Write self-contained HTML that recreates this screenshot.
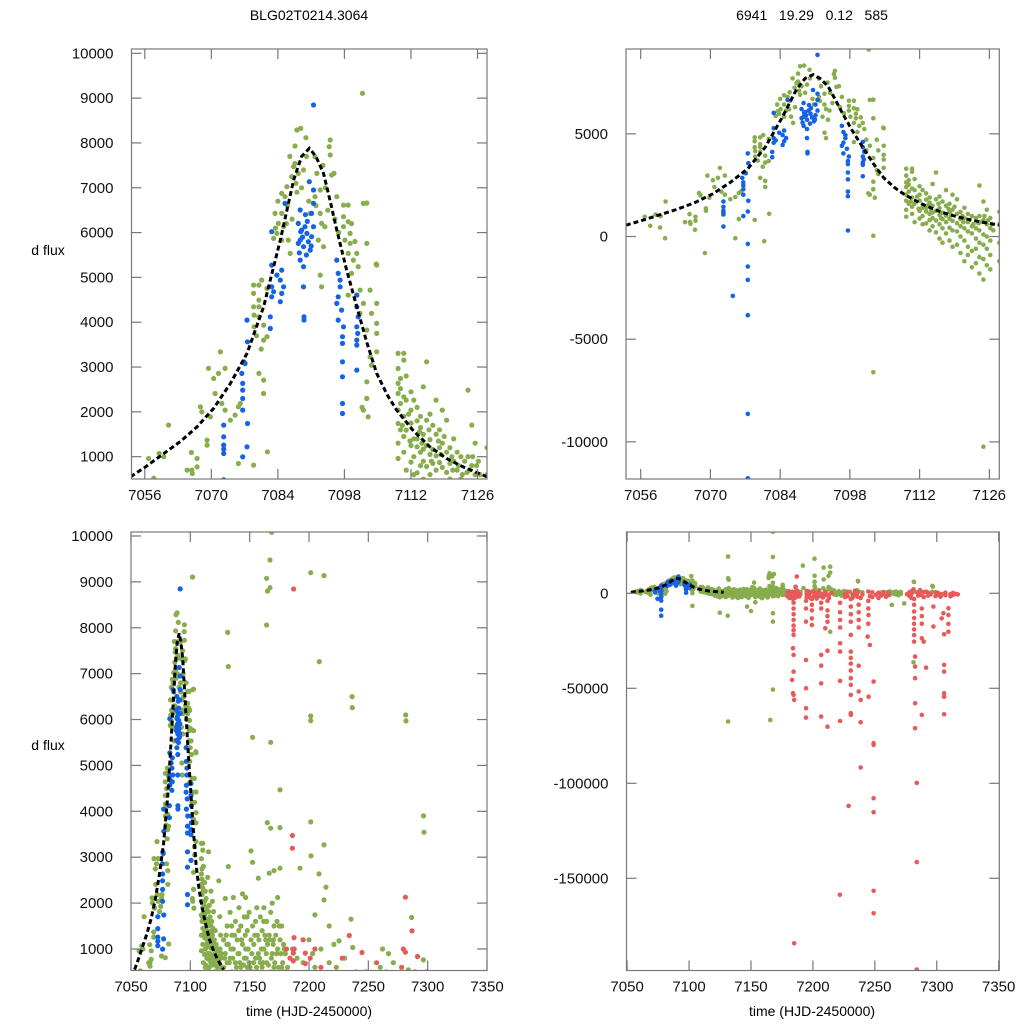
<!DOCTYPE html>
<html><head><meta charset="utf-8"><style>
html,body{margin:0;padding:0;background:#fff;width:1024px;height:1024px;overflow:hidden;}
svg{display:block;font-family:"Liberation Sans",sans-serif;}
</style></head><body>
<svg id="chart" width="1024" height="1024" viewBox="0 0 1024 1024" xmlns="http://www.w3.org/2000/svg">
<rect width="1024" height="1024" fill="#fff"/>
<text x="309" y="20" font-size="14" text-anchor="middle">BLG02T0214.3064</text>
<text x="812" y="20" font-size="14" text-anchor="middle" xml:space="preserve">6941   19.29   0.12   585</text>
<text x="48" y="255" font-size="14" text-anchor="middle">d flux</text>
<text x="48" y="750" font-size="14" text-anchor="middle">d flux</text>
<text x="309" y="1016" font-size="14" text-anchor="middle">time (HJD-2450000)</text>
<text x="812" y="1016" font-size="14" text-anchor="middle">time (HJD-2450000)</text>
</svg>
<script>
// model curve
const curveT = [7053.0,7056.0,7060.0,7063.5,7067.0,7070.5,7074.0,7077.5,7081.0,7084.5,7087.3,7089.0,7090.6,7092.0,7093.6,7095.0,7096.4,7098.5,7100.6,7102.7,7104.8,7107.0,7109.0,7112.5,7116.0,7119.5,7123.0,7128.0];
const curveF = [550,760,1072,1340,1666,2080,2634,3304,4344,5833,7172,7700,7880,7700,7322,6700,6056,5150,4344,3550,2858,2380,2038,1580,1219,960,773,550];

// blue series [t, flux]
const blue = [[7091.5,8846],[7090.6,7135],[7091.5,6949],[7091.5,6651],[7088.7,6503],[7091.1,6428],[7088.3,6205],[7089.0,6056],[7090.1,5982],[7091.1,5907],[7088.7,5833],[7089.4,5684],[7090.8,5610],[7088.3,5759],[7090.4,5796],[7091.5,6131],[7089.7,6131],[7088.8,6019],[7085.5,6651],[7082.7,6019],[7088.7,5387],[7089.4,5238],[7089.4,4791],[7089.5,4122],[7089.5,4050],
[7089.2,5900],[7090.2,6250],[7088.5,5550],[7091.0,5700],[7090.0,5500],[7089.8,6400],
[7082.7,5275],[7084.8,5163],[7084.5,4940],[7082.7,4791],[7085.2,4791],[7082.7,4568],[7084.8,4643],[7084.5,4457],[7082.4,4122],[7082.4,3861],[7083.8,5052],[7083.1,4680],
[7096.4,5387],[7096.7,5089],[7097.1,4791],[7096.4,4419],[7097.4,4271],[7096.7,4048],[7097.8,3898],[7097.6,3676],[7097.6,3527],[7097.6,3117],[7097.6,2782],[7097.6,2187],[7097.6,1964],[7097.1,4940],[7096.7,4568],[7097.6,292],
[7100.6,4606],[7100.6,4345],[7100.9,4122],[7100.6,3898],[7100.6,3601],[7100.6,3490],[7100.6,2931],[7100.8,3750],
[7077.5,4048],[7077.6,3564],[7076.8,3118],[7076.4,2857],[7076.6,2634],[7076.6,2485],[7076.6,2299],[7076.6,2039],[7077.6,1741],[7077.5,1220],[7076.6,997],[7072.6,1704],[7072.6,1444],[7072.6,1258],[7072.6,1071],[7077.1,3080],
[7077.5,-357],[7077.5,-1462],[7077.5,-2111],[7077.5,-3832],[7077.5,-8640],[7077.5,-11773],[7074.5,-2891],[7072.6,487],[7072.6,1170]];

// green series [t, flux]
const green = [[7056.8,960],[7059.0,1070],[7060.0,997],[7061.0,1704],[7064.9,700],[7066.0,625],[7065.8,1094],[7067.0,773],[7067.0,960],[7067.7,2113],[7068.0,2001],[7069.1,1369],[7069.1,1258],[7069.4,2969],[7069.8,1890],[7070.5,2745],[7070.8,2410],[7071.5,2857],[7071.9,3341],[7072.2,2187],[7072.9,2969],[7072.9,2039],[7074.0,1815],[7075.0,1927],[7075.7,2113],[7075.7,848],[7076.1,2187],[7078.9,811],[7080.0,2857],[7081.0,3601],[7081.0,2708],[7081.0,2410],[7081.7,3676],[7081.8,1109],
[7060.9,-80],[7068.9,-800],[7075.0,-80],[7080.8,-230],[7057.9,520],[7059.9,440],[7066.9,330],[7065.9,700],
[7078.9,4829],[7080.0,4829],[7078.9,4643],[7080.0,4494],[7078.9,4345],[7080.0,4345],[7079.0,4159],[7080.0,4122],[7079.0,3898],[7081.0,3936],[7080.6,4940],[7081.7,4754],[7079.5,3700],[7080.5,3400],
[7083.4,6428],[7084.1,6205],[7083.8,5982],[7083.1,5870],[7084.8,5833],[7085.2,6131],[7084.8,6428],[7085.5,6800],[7084.8,6875],[7085.9,7024],[7086.9,7247],[7086.6,5535],[7086.2,5833],[7087.3,7470],[7087.6,7545],[7086.0,6600],[7083.5,6100],
[7088.0,8288],[7088.8,8325],[7089.9,8117],[7087.6,7932],[7088.3,7321],[7089.4,7396],[7091.8,7694],[7092.2,7321],[7090.8,6428],[7091.8,6800],[7092.9,6950],[7092.9,6428],[7093.2,6205],[7093.9,6131],[7092.5,5833],[7093.6,5684],[7095.0,8065],[7094.8,7916],[7095.0,7730],[7095.3,7284],[7095.8,7321],[7096.4,6800],[7097.8,6614],[7098.8,6614],[7097.8,6354],[7098.8,6243],[7097.8,6131],[7099.2,5982],[7098.1,5833],[7099.2,5759],[7098.8,5535],[7100.6,5535],[7099.9,5386],[7100.9,5238],[7099.5,5089],[7102.0,6651],[7102.7,5759],[7104.8,5275],[7101.3,4717],[7102.0,4420],[7103.4,4717],[7104.8,4420],[7103.7,4196],[7104.8,3973],[7102.7,3824],[7104.8,3750],[7104.8,3341],[7103.4,3229],[7103.7,3043],[7102.7,2671],[7102.7,2299],[7102.0,2039],[7103.0,1890],[7092.9,5052],[7093.2,4791],[7098.8,4605],[7101.3,4196],[7090.0,7700],[7089.0,7000],[7090.5,6700],[7094.0,7000],[7096.0,6300],[7088.0,6900],[7087.0,6300],
[7086.5,7700],[7087.8,7100],[7093.5,7500],[7092.0,6600],[7094.5,6500],[7096.8,6000],[7099.5,6200],[7100.2,5800],[7085.8,6200],[7084.0,6700],
[7101.8,9107],[7102.7,6661],[7104.7,5300],[7102.7,2300],[7101.7,2100],[7102.7,34],[7102.7,-6610],
[7109.3,3304],[7109.3,2968],[7109.3,2634],[7109.3,2410],[7109.3,2039],[7109.3,1741],[7109.3,1300],[7109.3,960],
[7109.8,2745],[7109.8,2187],[7109.8,1600],[7109.8,2520],
[7110.5,3304],[7110.5,3155],[7110.5,2336],[7110.5,1900],[7110.5,1450],[7110.5,1100],
[7111.0,2262],[7111.0,2800],[7111.0,1592],[7111.0,700],
[7112.0,2448],[7112.0,2039],[7112.0,1750],[7112.0,1250],[7112.0,880],
[7112.6,2262],[7112.6,1400],[7112.6,1000],[7112.6,600],
[7113.3,2100],[7113.3,1800],[7113.3,1400],[7113.3,1220],[7113.3,640],
[7114.0,1900],[7114.0,1650],[7114.0,1100],[7114.0,800],[7114.0,300],
[7114.6,2559],[7114.6,1500],[7114.6,1170],[7114.6,900],[7114.6,500],
[7115.3,3117],[7115.3,1815],[7115.3,1250],[7115.3,780],[7115.3,200],
[7116.0,1950],[7116.0,1380],[7116.0,1050],[7116.0,600],[7116.0,-100],
[7116.6,1700],[7116.6,1160],[7116.6,850],[7116.6,400],[7116.6,-300],
[7117.3,2262],[7117.3,1500],[7117.3,1020],[7117.3,700],[7117.3,150],
[7118.0,1600],[7118.0,1200],[7118.0,870],[7118.0,430],[7118.0,-200],
[7118.6,2039],[7118.6,1300],[7118.6,760],[7118.6,300],[7118.6,-500],
[7119.5,1815],[7119.5,1100],[7119.5,650],[7119.5,250],[7119.5,-400],
[7120.2,1200],[7120.2,850],[7120.2,500],[7120.2,0],[7120.2,-800],
[7121.0,1400],[7121.0,900],[7121.0,400],[7121.0,-200],[7121.0,-1200],
[7121.7,1100],[7121.7,700],[7121.7,250],[7121.7,-500],[7121.7,-900],
[7122.5,1000],[7122.5,500],[7122.5,150],[7122.5,-700],[7122.5,-1500],
[7123.3,900],[7123.3,400],[7123.3,-100],[7123.3,-600],[7123.3,-1300],
[7124.0,2485],[7124.0,1000],[7124.0,300],[7124.0,-300],[7124.0,-1000],[7124.0,-1800],
[7124.8,1704],[7124.8,800],[7124.8,100],[7124.8,-400],[7124.8,-1100],[7124.8,-2100],[7124.8,-10233],
[7125.5,1300],[7125.5,600],[7125.5,0],[7125.5,-600],[7125.5,-1400],
[7126.2,900],[7126.2,400],[7126.2,-200],[7126.2,-900],[7126.2,-1600],
[7110.2,1700],[7111.5,1950],[7113.8,1550],[7115.8,1600],[7117.8,1350],[7119.0,1450],[7120.6,1000],[7122.0,800],[7123.8,650],[7125.0,1000],[7126.5,600],[7111.8,1350],[7114.3,1300],[7116.3,900],[7118.3,1050],[7120.8,700],[7122.8,600],[7124.3,700],[7125.8,800],[7126.8,300],
[7128,1200],[7128,600],[7128,-300],[7128,-1200],
[7129.5,2100],[7129.5,900],[7129.5,100],[7129.5,-800],[7129.5,-2000],
[7131,1500],[7131,700],[7131,-400],[7131,-1500],[7131.5,19300],[7131.5,7900],[7131.2,-11800],[7131.5,-67500],
[7132,7153],[7132,2796],[7132,1100],[7132,300],[7132,-600],
[7133.5,1800],[7133.5,800],[7133.5,-200],[7133.5,-1100],
[7135,1300],[7135,500],[7135,-500],[7135,-2200],
[7136.2,2121],[7136.2,1000],[7136.2,200],[7136.2,-900],
[7138,1600],[7138,700],[7138,-300],[7138,-1700],
[7139.5,1200],[7139.5,400],[7139.5,-600],[7139.5,-2500],
[7141,1900],[7141,900],[7141,0],[7141,-1300],
[7142.5,1500],[7142.5,600],[7142.5,-400],[7142.5,-2000],
[7144,1100],[7144,300],[7144,-800],[7144,2200],
[7145.5,1700],[7145.5,800],[7145.5,-200],[7145.5,-1500],
[7146.6,2121],[7146.6,1000],[7146.6,100],[7146.8,-7000],
[7148,1400],[7148,600],[7148,-500],[7148,-2400],
[7149.5,1800],[7149.5,700],[7149.5,-300],[7149.5,-1100],[7150,-9300],
[7151.1,3137],[7151.1,1200],[7151.1,400],[7151.1,-700],
[7152.5,5614],[7152.5,2890],[7152.5,1500],[7152.5,500],[7152.5,-1000],
[7153.5,1100],[7153.5,200],[7153.5,-4700],[7153.5,-2000],
[7155,1600],[7155,800],[7155,-400],[7155,-1300],
[7156.5,1300],[7156.5,500],[7156.5,-600],
[7157.3,2542],[7157.3,900],[7157.3,0],[7157.3,-1800],
[7159,1700],[7159,700],[7159,-300],[7159,-2600],
[7160.5,1400],[7160.5,600],[7160.5,-800],
[7162,1900],[7162,1000],[7162,100],[7162,-1400],
[7163.5,1200],[7163.5,400],[7163.5,-500],[7163.5,-2200],
[7164.3,9078],[7164.3,8061],[7164.9,3755],[7164.3,1600],[7164.3,700],
[7165,8800],[7165,10500],[7165.6,-66700],[7165,1100],[7165,-200],
[7166.5,2651],[7166.5,1300],[7166.5,300],[7166.5,-900],
[7167.1,9477],[7167.1,8874],[7167.7,5505],[7167.7,3631],
[7167.7,32400],[7167.7,19100],[7167.7,-14900],[7167.7,-10500],[7167.7,-50700],[7168.5,10080],[7167.7,1800],[7167.7,500],[7167.7,-1600],
[7169,2000],[7169,900],[7169,-100],[7169,-1200],
[7170.5,2709],[7170.5,1500],[7170.5,600],[7170.5,-700],
[7172,1300],[7172,300],[7172,-1500],
[7173.5,2121],[7173.5,1000],[7173.5,0],
[7175.6,4466],[7175.6,3646],[7175.6,2760],[7175.6,1200],[7175.6,400],[7175.6,-900],
[7177,1500],[7177,600],[7177,-500],
[7178.5,1100],[7178.5,200],[7178.5,-1000],
[7180,900],[7180,-300],
[7128.8,800],[7130.2,1300],[7132.8,700],[7134.2,1000],[7135.8,800],[7137.2,1300],[7138.8,600],[7140.2,900],[7141.8,700],[7143.2,1200],[7144.8,650],[7146.2,1300],[7147.2,800],[7148.8,1000],[7150.3,600],[7151.8,900],[7153.2,700],[7154.3,1300],[7155.8,600],[7157.8,1200],[7158.4,800],[7160,1000],[7161.2,700],[7162.8,1300],[7164,900],[7165.8,650],[7167,1200],[7168.2,800],[7169.8,1100],[7171.2,700],[7172.8,900],[7174.2,600],[7175,1500],[7176.3,900],[7177.8,700],[7179.2,1000],[7130.8,1100],[7134.8,1500],[7140.8,1400],[7147.8,1700],[7156,1900],[7161.8,1600],[7170,1200],[7173,1600],
[7182,600],[7182,-400],[7186,1000],[7190,800],[7190,-600],[7191.9,14600],[7192.4,2760],[7195,700],[7200,1200],[7201.3,18200],[7201.4,9201],[7201.4,6078],[7201.4,5977],[7201.4,3769],[7201.7,3028],[7203,900],[7203,-500],[7205,1743],[7205,600],[7208.4,2636],[7208.6,13500],[7208.7,7262],[7210,1000],[7212.6,9136],[7212.6,3268],[7212.6,2070],[7214,14000],[7214,10900],[7214,-20200],[7214.3,2346],[7217,700],[7217,-600],[7217,1500],[7219,300],[7219,-900],[7221,1100],[7221,-300],[7223,600],[7223,-1200],[7225.3,1177],[7226,400],[7226,-500],[7230,800],[7235.4,1649],[7236.3,6500],[7236.5,6260],[7236.8,1032],[7240,500],[7255,300],[7260,600],[7260,-400],[7262,1000],[7262,-800],[7263.7,-6100],[7265,500],[7265,-200],[7267,900],[7267,-600],[7269,300],[7269,-1000],[7271,700],[7271,-300],[7273.7,-5300],[7281.2,-36300],[7281.5,6100],[7281.7,5970],[7283.7,545],[7286.5,1685],[7296.4,763],[7296.5,3900],[7296.9,3544],[7300,300],[7305,-500]];

// red series [t, flux]
const red = [[7179.5,500],[7179.5,-1500],[7181,1000],[7181,-800],[7181,-2500],[7182.5,200],[7182.5,-1800],[7184,800],[7184,-1000],[7184,-3000],[7186,300],[7186,-2200],[7187.5,1000],[7187.5,-600],[7189,-300],[7189,-1700],
[7184.4,-2600],[7184.4,-5000],[7184.4,-8000],[7184.4,-11000],[7184.4,-14000],[7184.4,-17000],[7184.4,-19500],[7184.4,-21900],[7183.9,-28900],[7184.4,-32400],[7184.4,-41200],[7183.2,-45600],[7183.9,-52600],[7184.4,-53500],[7184.9,-56100],[7184.9,-184200],
[7187.0,8845],[7186,3472],[7186,3196],[7187.4,1249],[7186.8,910],[7186.8,741],
[7195,1200],[7195,-500],[7195,-2000],[7196.9,910],[7196.9,683],[7196.9,-1000],[7198,400],[7198,-2500],[7199.2,-13200],[7199.2,-16700],[7199.2,-3000],[7199.2,-6000],[7199.2,-9000],[7201,800],[7201,-1200],[7203,-400],[7203,-2800],[7205,1000],[7205,-1600],[7206.7,-32400],[7206.7,-38100],[7206.7,-47400],[7206.7,-64900],[7206.7,-5000],[7206.7,-8000],[7208,-300],[7208,-2200],[7210,600],[7210,-1000],[7210,-18400],[7211.8,-30200],[7211.8,-70200],[7211.8,-4000],[7211.8,-9000],[7211.8,-12000],[7211.8,-15000],[7213,-800],[7213,-2500],[7215,200],
[7194.4,-14900],[7194.4,-35100],[7194.4,-50000],[7194.4,-60500],[7194.4,-65400],[7194.4,-4000],[7194.4,-8000],
[7222,-26300],[7222,-30700],[7222,-46100],[7222,-67200],[7221.8,-158700],[7222,-5000],[7222,-10000],[7222,-14000],[7222,-18000],
[7226,-500],[7226,-2000],[7228,800],[7228,-1500],[7228.8,-111900],[7230.6,-21900],[7230.6,-30700],[7230.6,-34000],[7230.6,-37000],[7230.6,-40700],[7230.6,-44700],[7230.6,-48200],[7230.6,-53500],[7230.6,-63100],[7230.6,-64000],[7230.6,-3000],[7230.6,-7000],[7230.6,-11000],[7230.6,-15000],[7232,-600],[7232,-2400],[7234,1293],[7234,-1000],[7236,300],[7236,-1800],[7237,-38100],[7237,-51700],[7237,-6000],[7237,-10000],[7237,-14000],[7237,-18000],[7238.6,-56100],[7238.6,-67900],[7238.6,-91700],[7238.6,-2500],[7240,-700],
[7244.7,923],[7244.9,-11400],[7244.2,-22800],[7244.7,-4000],[7244.7,-8000],[7244.7,-16000],[7246,-27200],[7245,-54400],[7246,-1500],[7248,500],[7248,-2000],[7249,-46500],[7249,-78900],[7249,-79800],[7249,-107900],[7249,-115200],[7249,-156600],[7249,-168400],[7251,-800],[7253,300],[7253,-2500],[7255,-1200],[7257,700],[7257,-400],[7259,-1800],[7261,200],[7261,-1000],
[7276,-500],[7278,600],[7278,-1500],[7279.5,1000],[7279.5,-2500],[7279.5,-300],[7281.2,2128],[7281.2,930],[7281.7,-9600],[7281.7,-13000],[7281.7,-16000],[7281.7,-19000],[7281.7,-22000],[7281.7,-25400],[7282.5,-33300],[7282.5,-38600],[7282.5,-44700],[7282.5,-57900],[7282.5,-71000],[7281.7,-3000],[7281.7,-6000],[7283.9,-99800],[7283.9,-141500],[7283.9,-198000],[7285,400],[7285,-1200],[7286.8,1395],[7286.8,-800],[7287.9,-23700],[7287.9,-64000],[7287.9,-8000],[7287.9,-12000],[7287.9,-16000],[7289.5,-25400],[7289.5,-2000],[7289.5,500],[7291.4,-39100],[7291.4,836],[7293,-1200],[7293,300],[7295,-600],[7297.3,-17500],[7297.3,-7000],[7299,500],[7299,-1500],
[7301,-800],[7301,200],[7303,-400],[7303,-1800],[7304,-13200],[7305.4,-10500],[7305.9,-21600],[7305.9,-37700],[7305.9,-41200],[7305.9,-52600],[7305.9,-54400],[7305.9,-63700],[7307,300],[7307,-1000],[7309.4,-7900],[7309.4,-11400],[7309.4,-16100],[7309.4,-20200],[7311,-500],[7311,-1600],[7313,200],[7313,-900],[7315,-300],[7317,-600]];

// axis tick values
const ticksXTop = [7056,7070,7084,7098,7112,7126];
const ticksXBottom = [7050,7100,7150,7200,7250,7300,7350];
const ticksYTL = [1000,2000,3000,4000,5000,6000,7000,8000,9000,10000];
const ticksYTR = [5000,0,-5000,-10000];
const ticksYBL = [1000,2000,3000,4000,5000,6000,7000,8000,9000,10000];
const ticksYBR = [0,-50000,-100000,-150000];

const NS = "http://www.w3.org/2000/svg";
const svg = document.getElementById('chart');
function mk(tag, attrs, parent){ const e=document.createElementNS(NS,tag); for(const k in attrs) e.setAttribute(k,attrs[k]); (parent||svg).appendChild(e); return e; }

const panels = [
 {id:'tl', x0:131.5,x1:487,y0:49,y1:479, t0:7053.2,t1:7128.0, f0:502,f1:10096, xt:ticksXTop, yt:ticksYTL, r:2.6},
 {id:'tr', x0:626,x1:999.3,y0:49,y1:479, t0:7053.05,t1:7128.0, f0:-11808,f1:9132, xt:ticksXTop, yt:ticksYTR, r:2.3},
 {id:'bl', x0:131,x1:487,y0:532,y1:970.5, t0:7050,t1:7350, f0:531,f1:10087, xt:ticksXBottom, yt:ticksYBL, r:2.6},
 {id:'br', x0:626.5,x1:999.3,y0:532,y1:970.5, t0:7049.5,t1:7350.5, f0:-198530,f1:32260, xt:ticksXBottom, yt:ticksYBR, r:2.3}
];

panels.forEach(p=>{
  const sx = t => p.x0 + (t-p.t0)/(p.t1-p.t0)*(p.x1-p.x0);
  const sy = f => p.y1 - (f-p.f0)/(p.f1-p.f0)*(p.y1-p.y0);
  const g = mk('g',{});
  
  
  const cp = mk('clipPath',{id:'clip-'+p.id}, g);
  mk('rect',{x:p.x0,y:p.y0,width:p.x1-p.x0,height:p.y1-p.y0}, cp);
  const pts = mk('g',{'clip-path':'url(#clip-'+p.id+')'}, g);
  
  
  const series = [['green','#87ad4d',green],['blue','#1463e6',blue],['red','#e85a5a',red]];
  series.forEach(([nm,col,arr])=>{
    arr.forEach(d=>{
      if(d[0]<p.t0-3||d[0]>p.t1+3) return;
      const c = mk('circle',{cx:sx(d[0]).toFixed(1),cy:sy(d[1]).toFixed(1),r:p.r,fill:col}, pts);
      
      
    });
  });
  let dstr='';
  curveT.forEach((t,i)=>{ dstr += (i?'L':'M')+sx(t).toFixed(1)+','+sy(curveF[i]).toFixed(1); });
  const cv = mk('path',{d:dstr,fill:'none',stroke:'#000','stroke-width':3,'stroke-dasharray':'5,3'}, pts);
  
  
  const fr = mk('rect',{x:p.x0,y:p.y0,width:p.x1-p.x0,height:p.y1-p.y0,fill:'none',stroke:'#777','stroke-width':1.2}, g);
  
  
  p.xt.forEach(t=>{
    const x=sx(t);
    mk('line',{x1:x,x2:x,y1:p.y1,y2:p.y1-10,stroke:'#777','stroke-width':1.2}, g);
    mk('line',{x1:x,x2:x,y1:p.y0,y2:p.y0+10,stroke:'#777','stroke-width':1.2}, g);
    const lb = mk('text',{x:x,y:p.y1+21,'font-size':15,'text-anchor':'middle',fill:'#111'}, g);
    lb.textContent = t;
    
    
  });
  p.yt.forEach(f=>{
    const y=sy(f);
    mk('line',{x1:p.x0,x2:p.x0+10,y1:y,y2:y,stroke:'#777','stroke-width':1.2}, g);
    mk('line',{x1:p.x1,x2:p.x1-10,y1:y,y2:y,stroke:'#777','stroke-width':1.2}, g);
    const lb = mk('text',{x:p.x0-18,y:y+5,'font-size':15,'text-anchor':'end',fill:'#111'}, g);
    lb.textContent = f;
    
    
  });
});
</script>
</body></html>
